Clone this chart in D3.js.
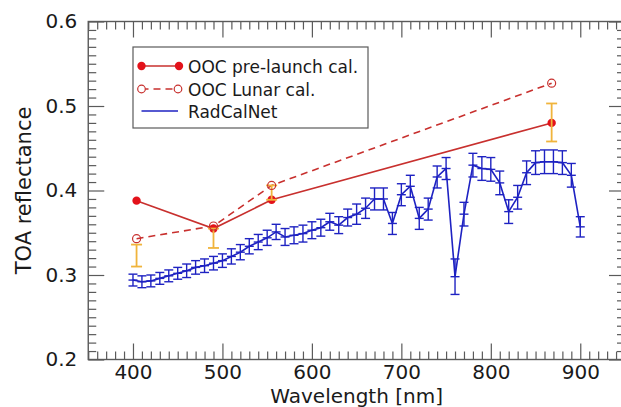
<!DOCTYPE html>
<html><head><meta charset="utf-8">
<script src="https://cdn.jsdelivr.net/npm/d3@7/dist/d3.min.js"></script>
<style>body{margin:0;background:#fff}svg{display:block}text{font-family:"DejaVu Sans",sans-serif;fill:#1a1a1a}</style>
</head><body><svg id="c" width="621" height="407"></svg>
<script>
// ---- data ----
const radWavelengths = [400,410,420,430,440,450,460,470,480,490,500,510,520,530,540,550,560,570,580,590,600,610,620,630,640,650,660,670,680,690,700,710,720,730,740,750,760,770,780,790,800,810,820,830,840,850,860,870,880,890,900];
const radValues = [0.294,0.292,0.293,0.296,0.299,0.302,0.305,0.309,0.311,0.314,0.317,0.322,0.327,0.334,0.339,0.344,0.351,0.345,0.347,0.349,0.353,0.356,0.363,0.359,0.368,0.372,0.379,0.390,0.390,0.361,0.395,0.405,0.367,0.378,0.416,0.426,0.298,0.372,0.430,0.426,0.425,0.409,0.375,0.392,0.421,0.433,0.434,0.434,0.433,0.418,0.357];
const radErrors = [0.007,0.007,0.007,0.007,0.007,0.007,0.008,0.008,0.008,0.008,0.008,0.009,0.009,0.009,0.009,0.009,0.009,0.010,0.010,0.010,0.010,0.010,0.010,0.010,0.010,0.012,0.012,0.013,0.013,0.013,0.013,0.013,0.013,0.013,0.013,0.013,0.021,0.014,0.014,0.014,0.014,0.014,0.014,0.014,0.014,0.014,0.014,0.014,0.014,0.014,0.012];
const oocWavelengths = [404,490,555,868];
const preLaunchValues = [0.388,0.355,0.389,0.480];
const lunarValues = [0.343,0.358,0.406,0.527];
const uncLow = [0.310,0.332,0.389,0.458];
const uncHigh = [0.336,0.355,0.406,0.503];
const xMajorTicks = [400,500,600,700,800,900];
const yMajorTicks = [0.2,0.3,0.4,0.5,0.6];
const legendLabels = ["OOC pre-launch cal.","OOC Lunar cal.","RadCalNet"];

// ---- layout ----
const svg = d3.select("#c");
const x = d3.scaleLinear().domain([350,950]).range([88.25,625]);
const y = d3.scaleLinear().domain([0.2,0.6]).range([359.5,21.5]);
const xMinor = d3.range(350,951,10).filter(v=>v%100!==0);
const yMinor = d3.range(20,61,1).map(v=>v/100).filter(v=>Math.round(v*100)%10!==0);
const frameCol = "#5a5a5a";
const RED_LINE = "#c8302e", RED_DOT = "#e3121a", BLUE = "#1e22c2", ORANGE = "#f0b43c";

// frame
svg.append("rect").attr("x",x(350)).attr("y",y(0.6)).attr("width",x(950)-x(350)).attr("height",y(0.2)-y(0.6))
  .attr("fill","none").attr("stroke",frameCol).attr("stroke-width",1.4);

function styleAxis(g, labels){
  g.select(".domain").remove();
  g.selectAll(".tick line").attr("stroke",frameCol).attr("stroke-width",1.2);
  g.selectAll("text").style("font-size","20px").attr("fill","#1a1a1a");
  if(!labels) g.selectAll("text").remove();
}
// bottom
styleAxis(svg.append("g").attr("transform",`translate(0,${y(0.2)})`).call(d3.axisBottom(x).tickValues(xMajorTicks).tickSize(-16).tickPadding(5.5).tickFormat(d3.format("d"))), true);
styleAxis(svg.append("g").attr("transform",`translate(0,${y(0.2)})`).call(d3.axisBottom(x).tickValues(xMinor).tickSize(-8).tickFormat("")), false);
// top
styleAxis(svg.append("g").attr("transform",`translate(0,${y(0.6)})`).call(d3.axisTop(x).tickValues(xMajorTicks).tickSize(-16).tickFormat("")), false);
styleAxis(svg.append("g").attr("transform",`translate(0,${y(0.6)})`).call(d3.axisTop(x).tickValues(xMinor).tickSize(-8).tickFormat("")), false);
// left
styleAxis(svg.append("g").attr("transform",`translate(${x(350)},0)`).call(d3.axisLeft(y).tickValues(yMajorTicks).tickSize(-16).tickPadding(11).tickFormat(d3.format(".1f"))), true);
styleAxis(svg.append("g").attr("transform",`translate(${x(350)},0)`).call(d3.axisLeft(y).tickValues(yMinor).tickSize(-8).tickFormat("")), false);
// right
styleAxis(svg.append("g").attr("transform",`translate(${x(950)},0)`).call(d3.axisRight(y).tickValues(yMajorTicks).tickSize(-16).tickFormat("")), false);
styleAxis(svg.append("g").attr("transform",`translate(${x(950)},0)`).call(d3.axisRight(y).tickValues(yMinor).tickSize(-8).tickFormat("")), false);

// titles
svg.append("text").attr("x",(x(350)+x(950))/2).attr("y",403).attr("text-anchor","middle").style("font-size","20px").text("Wavelength [nm]");
svg.append("text").attr("transform",`translate(31,${(y(0.2)+y(0.6))/2}) rotate(-90)`).attr("text-anchor","middle").style("font-size","21px").text("TOA reflectance");

// RadCalNet
const rad = radWavelengths.map((w,i)=>({w,v:radValues[i],e:radErrors[i]}));
svg.append("path").datum(rad).attr("fill","none").attr("stroke",BLUE).attr("stroke-width",1.6)
  .attr("d",d3.line().x(d=>x(d.w)).y(d=>y(d.v)));
const eb = svg.append("g").attr("stroke",BLUE).attr("stroke-width",1.4).attr("fill","none");
rad.forEach(d=>{
  const cx=x(d.w), y0=y(d.v-d.e), y1=y(d.v+d.e);
  eb.append("line").attr("x1",cx).attr("x2",cx).attr("y1",y0).attr("y2",y1);
  eb.append("line").attr("x1",cx-4.5).attr("x2",cx+4.5).attr("y1",y0).attr("y2",y0);
  eb.append("line").attr("x1",cx-4.5).attr("x2",cx+4.5).attr("y1",y1).attr("y2",y1);
  eb.append("line").attr("x1",cx-4.5).attr("x2",cx+4.5).attr("y1",y(d.v)).attr("y2",y(d.v));
});

// OOC lines
const ooc = oocWavelengths.map((w,i)=>({w,p:preLaunchValues[i],l:lunarValues[i],lo:uncLow[i],hi:uncHigh[i]}));
svg.append("path").datum(ooc).attr("fill","none").attr("stroke",RED_LINE).attr("stroke-width",1.6)
  .attr("d",d3.line().x(d=>x(d.w)).y(d=>y(d.l))).attr("stroke-dasharray","7,5");
svg.append("path").datum(ooc).attr("fill","none").attr("stroke",RED_LINE).attr("stroke-width",1.6)
  .attr("d",d3.line().x(d=>x(d.w)).y(d=>y(d.p)));
svg.selectAll(".pre").data(ooc).join("circle").attr("cx",d=>x(d.w)).attr("cy",d=>y(d.p)).attr("r",4.2).attr("fill",RED_DOT);
const ob = svg.append("g").attr("stroke",ORANGE).attr("stroke-width",1.8);
ooc.forEach(d=>{
  const cx=x(d.w);
  ob.append("line").attr("x1",cx).attr("x2",cx).attr("y1",y(d.lo)).attr("y2",y(d.hi));
  ob.append("line").attr("x1",cx-5.5).attr("x2",cx+5.5).attr("y1",y(d.lo)).attr("y2",y(d.lo));
  ob.append("line").attr("x1",cx-5.5).attr("x2",cx+5.5).attr("y1",y(d.hi)).attr("y2",y(d.hi));
});
svg.selectAll(".lun").data(ooc).join("circle").attr("cx",d=>x(d.w)).attr("cy",d=>y(d.l)).attr("r",4)
  .attr("fill","none").attr("stroke",RED_LINE).attr("stroke-width",1.2);

// legend
const lg = svg.append("g");
lg.append("rect").attr("x",133).attr("y",47).attr("width",235).attr("height",81).attr("fill","#fff").attr("stroke",frameCol).attr("stroke-width",1.2);
const rows=[66,89,111];
lg.append("line").attr("x1",141.5).attr("x2",179).attr("y1",rows[0]).attr("y2",rows[0]).attr("stroke",RED_LINE).attr("stroke-width",1.6);
[141.5,179].forEach(cx=>lg.append("circle").attr("cx",cx).attr("cy",rows[0]).attr("r",4.2).attr("fill",RED_DOT));
lg.append("line").attr("x1",141.5).attr("x2",178).attr("y1",rows[1]).attr("y2",rows[1]).attr("stroke",RED_LINE).attr("stroke-width",1.6).attr("stroke-dasharray","7,5");
[141.5,178].forEach(cx=>lg.append("circle").attr("cx",cx).attr("cy",rows[1]).attr("r",3.8).attr("fill","#fff").attr("stroke",RED_LINE).attr("stroke-width",1.2));
lg.append("line").attr("x1",141.5).attr("x2",178).attr("y1",rows[2]).attr("y2",rows[2]).attr("stroke",BLUE).attr("stroke-width",1.6);
legendLabels.forEach((t,i)=>lg.append("text").attr("x",188).attr("y",rows[i]+6.5).style("font-size","17px").text(t));
</script></body></html>
